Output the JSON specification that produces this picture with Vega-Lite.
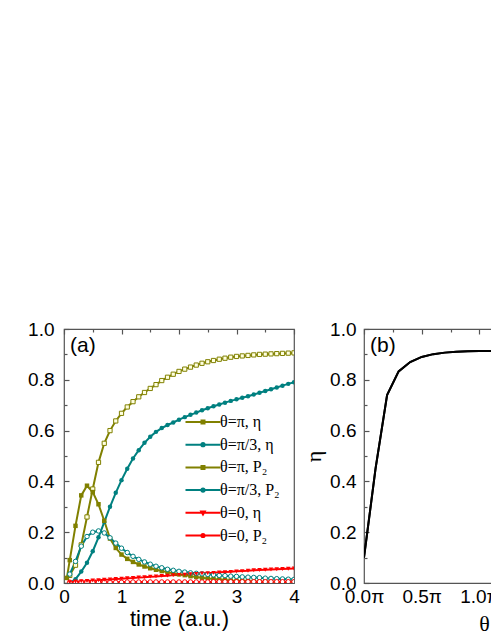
{
"$schema": "https://vega.github.io/schema/vega-lite/v6.json",
"padding": {"left": 26, "top": 319, "right": 0, "bottom": 0},
"bounds": "flush",
"spacing": 70,
"config": {
  "view": {"stroke": "#555", "strokeWidth": 1.2},
  "font": "Liberation Sans",
  "title": {"font": "Liberation Sans", "fontWeight": "normal", "fontSize": 21, "color": "#000"},
  "axis": {"grid": true, "gridColor": "#555", "gridWidth": 1.2, "gridOpacity": 1, "domain": false, "ticks": false, "labelColor": "#000", "titleColor": "#000", "labelFont": "Liberation Sans", "labelFontSize": 19, "titleFont": "Liberation Sans", "titleFontSize": 22, "titleFontWeight": "normal", "labelFlush": false, "labelOverlap": false}
},
"datasets": {
"pa": [
{"t":0.1,"s":"A","v":0.03},{"t":0.2,"s":"A","v":0.07},{"t":0.3,"s":"A","v":0.15},{"t":0.4,"s":"A","v":0.26},{"t":0.5,"s":"A","v":0.37},{"t":0.6,"s":"A","v":0.475},{"t":0.7,"s":"A","v":0.55},{"t":0.8,"s":"A","v":0.6},{"t":0.9,"s":"A","v":0.638},{"t":1.0,"s":"A","v":0.668},
{"t":1.1,"s":"A","v":0.693},{"t":1.2,"s":"A","v":0.714},{"t":1.3,"s":"A","v":0.733},{"t":1.4,"s":"A","v":0.75},{"t":1.5,"s":"A","v":0.766},{"t":1.6,"s":"A","v":0.781},{"t":1.7,"s":"A","v":0.797},{"t":1.8,"s":"A","v":0.81},{"t":1.9,"s":"A","v":0.822},{"t":2.0,"s":"A","v":0.833},
{"t":2.1,"s":"A","v":0.842},{"t":2.2,"s":"A","v":0.85},{"t":2.3,"s":"A","v":0.858},{"t":2.4,"s":"A","v":0.865},{"t":2.5,"s":"A","v":0.871},{"t":2.6,"s":"A","v":0.876},{"t":2.7,"s":"A","v":0.881},{"t":2.8,"s":"A","v":0.885},{"t":2.9,"s":"A","v":0.889},{"t":3.0,"s":"A","v":0.892},
{"t":3.1,"s":"A","v":0.894},{"t":3.2,"s":"A","v":0.896},{"t":3.3,"s":"A","v":0.898},{"t":3.4,"s":"A","v":0.9},{"t":3.5,"s":"A","v":0.901},{"t":3.6,"s":"A","v":0.902},{"t":3.7,"s":"A","v":0.903},{"t":3.8,"s":"A","v":0.904},{"t":3.9,"s":"A","v":0.905},{"t":4.0,"s":"A","v":0.906},
{"t":0.1,"s":"B","v":0.0},{"t":0.2,"s":"B","v":0.015},{"t":0.3,"s":"B","v":0.045},{"t":0.4,"s":"B","v":0.08},{"t":0.5,"s":"B","v":0.125},{"t":0.6,"s":"B","v":0.18},{"t":0.7,"s":"B","v":0.24},{"t":0.8,"s":"B","v":0.3},{"t":0.9,"s":"B","v":0.355},{"t":1.0,"s":"B","v":0.405},
{"t":1.1,"s":"B","v":0.45},{"t":1.2,"s":"B","v":0.49},{"t":1.3,"s":"B","v":0.523},{"t":1.4,"s":"B","v":0.552},{"t":1.5,"s":"B","v":0.576},{"t":1.6,"s":"B","v":0.595},{"t":1.7,"s":"B","v":0.61},{"t":1.8,"s":"B","v":0.622},{"t":1.9,"s":"B","v":0.632},{"t":2.0,"s":"B","v":0.643},
{"t":2.1,"s":"B","v":0.653},{"t":2.2,"s":"B","v":0.662},{"t":2.3,"s":"B","v":0.671},{"t":2.4,"s":"B","v":0.68},{"t":2.5,"s":"B","v":0.688},{"t":2.6,"s":"B","v":0.696},{"t":2.7,"s":"B","v":0.703},{"t":2.8,"s":"B","v":0.71},{"t":2.9,"s":"B","v":0.717},{"t":3.0,"s":"B","v":0.723},
{"t":3.1,"s":"B","v":0.729},{"t":3.2,"s":"B","v":0.735},{"t":3.3,"s":"B","v":0.742},{"t":3.4,"s":"B","v":0.749},{"t":3.5,"s":"B","v":0.756},{"t":3.6,"s":"B","v":0.763},{"t":3.7,"s":"B","v":0.77},{"t":3.8,"s":"B","v":0.777},{"t":3.9,"s":"B","v":0.784},{"t":4.0,"s":"B","v":0.79},
{"t":0.05,"s":"C","v":0.02},{"t":0.1,"s":"C","v":0.09},{"t":0.2,"s":"C","v":0.225},{"t":0.3,"s":"C","v":0.345},{"t":0.4,"s":"C","v":0.383},{"t":0.5,"s":"C","v":0.358},{"t":0.6,"s":"C","v":0.31},{"t":0.7,"s":"C","v":0.245},{"t":0.8,"s":"C","v":0.175},{"t":0.9,"s":"C","v":0.138},{"t":1.0,"s":"C","v":0.112},
{"t":1.1,"s":"C","v":0.095},{"t":1.2,"s":"C","v":0.083},{"t":1.3,"s":"C","v":0.073},{"t":1.4,"s":"C","v":0.065},{"t":1.5,"s":"C","v":0.058},{"t":1.6,"s":"C","v":0.052},{"t":1.7,"s":"C","v":0.047},{"t":1.8,"s":"C","v":0.042},{"t":1.9,"s":"C","v":0.038},{"t":2.0,"s":"C","v":0.034},
{"t":2.1,"s":"C","v":0.031},{"t":2.2,"s":"C","v":0.027},{"t":2.3,"s":"C","v":0.024},{"t":2.4,"s":"C","v":0.021},{"t":2.5,"s":"C","v":0.018},{"t":2.6,"s":"C","v":0.016},{"t":2.7,"s":"C","v":0.014},{"t":2.8,"s":"C","v":0.012},{"t":2.9,"s":"C","v":0.01},{"t":3.0,"s":"C","v":0.009},
{"t":3.1,"s":"C","v":0.008},{"t":3.2,"s":"C","v":0.007},{"t":3.3,"s":"C","v":0.006},{"t":3.4,"s":"C","v":0.005},{"t":3.5,"s":"C","v":0.005},{"t":3.6,"s":"C","v":0.004},{"t":3.7,"s":"C","v":0.004},{"t":3.8,"s":"C","v":0.003},{"t":3.9,"s":"C","v":0.003},{"t":4.0,"s":"C","v":0.003},
{"t":0.1,"s":"D","v":0.035},{"t":0.2,"s":"D","v":0.085},{"t":0.3,"s":"D","v":0.145},{"t":0.4,"s":"D","v":0.183},{"t":0.5,"s":"D","v":0.2},{"t":0.6,"s":"D","v":0.205},{"t":0.7,"s":"D","v":0.197},{"t":0.8,"s":"D","v":0.178},{"t":0.9,"s":"D","v":0.157},{"t":1.0,"s":"D","v":0.137},
{"t":1.1,"s":"D","v":0.12},{"t":1.2,"s":"D","v":0.105},{"t":1.3,"s":"D","v":0.093},{"t":1.4,"s":"D","v":0.083},{"t":1.5,"s":"D","v":0.074},{"t":1.6,"s":"D","v":0.066},{"t":1.7,"s":"D","v":0.06},{"t":1.8,"s":"D","v":0.054},{"t":1.9,"s":"D","v":0.05},{"t":2.0,"s":"D","v":0.046},
{"t":2.1,"s":"D","v":0.043},{"t":2.2,"s":"D","v":0.04},{"t":2.3,"s":"D","v":0.038},{"t":2.4,"s":"D","v":0.036},{"t":2.5,"s":"D","v":0.034},{"t":2.6,"s":"D","v":0.032},{"t":2.7,"s":"D","v":0.03},{"t":2.8,"s":"D","v":0.029},{"t":2.9,"s":"D","v":0.027},{"t":3.0,"s":"D","v":0.026},
{"t":3.1,"s":"D","v":0.024},{"t":3.2,"s":"D","v":0.023},{"t":3.3,"s":"D","v":0.022},{"t":3.4,"s":"D","v":0.021},{"t":3.5,"s":"D","v":0.019},{"t":3.6,"s":"D","v":0.018},{"t":3.7,"s":"D","v":0.017},{"t":3.8,"s":"D","v":0.016},{"t":3.9,"s":"D","v":0.015},{"t":4.0,"s":"D","v":0.014},
{"t":0.1,"s":"E","v":0.003},{"t":0.2,"s":"E","v":0.005},{"t":0.3,"s":"E","v":0.007},{"t":0.4,"s":"E","v":0.008},{"t":0.5,"s":"E","v":0.01},{"t":0.6,"s":"E","v":0.011},{"t":0.7,"s":"E","v":0.013},{"t":0.8,"s":"E","v":0.014},{"t":0.9,"s":"E","v":0.016},{"t":1.0,"s":"E","v":0.017},
{"t":1.1,"s":"E","v":0.019},{"t":1.2,"s":"E","v":0.02},{"t":1.3,"s":"E","v":0.022},{"t":1.4,"s":"E","v":0.023},{"t":1.5,"s":"E","v":0.025},{"t":1.6,"s":"E","v":0.026},{"t":1.7,"s":"E","v":0.028},{"t":1.8,"s":"E","v":0.029},{"t":1.9,"s":"E","v":0.031},{"t":2.0,"s":"E","v":0.032},
{"t":2.1,"s":"E","v":0.033},{"t":2.2,"s":"E","v":0.035},{"t":2.3,"s":"E","v":0.036},{"t":2.4,"s":"E","v":0.038},{"t":2.5,"s":"E","v":0.039},{"t":2.6,"s":"E","v":0.04},{"t":2.7,"s":"E","v":0.042},{"t":2.8,"s":"E","v":0.043},{"t":2.9,"s":"E","v":0.044},{"t":3.0,"s":"E","v":0.046},
{"t":3.1,"s":"E","v":0.047},{"t":3.2,"s":"E","v":0.048},{"t":3.3,"s":"E","v":0.05},{"t":3.4,"s":"E","v":0.051},{"t":3.5,"s":"E","v":0.052},{"t":3.6,"s":"E","v":0.053},{"t":3.7,"s":"E","v":0.054},{"t":3.8,"s":"E","v":0.055},{"t":3.9,"s":"E","v":0.056},{"t":4.0,"s":"E","v":0.057},
{"t":0.1,"s":"F","v":0.003},{"t":0.2,"s":"F","v":0.003},{"t":0.3,"s":"F","v":0.003},{"t":0.4,"s":"F","v":0.003},{"t":0.5,"s":"F","v":0.003},{"t":0.6,"s":"F","v":0.003},{"t":0.7,"s":"F","v":0.003},{"t":0.8,"s":"F","v":0.003},{"t":0.9,"s":"F","v":0.003},{"t":1.0,"s":"F","v":0.003},
{"t":1.1,"s":"F","v":0.004},{"t":1.2,"s":"F","v":0.004},{"t":1.3,"s":"F","v":0.004},{"t":1.4,"s":"F","v":0.004},{"t":1.5,"s":"F","v":0.004},{"t":1.6,"s":"F","v":0.004},{"t":1.7,"s":"F","v":0.004},{"t":1.8,"s":"F","v":0.004},{"t":1.9,"s":"F","v":0.004},{"t":2.0,"s":"F","v":0.004},
{"t":2.1,"s":"F","v":0.004},{"t":2.2,"s":"F","v":0.004},{"t":2.3,"s":"F","v":0.004},{"t":2.4,"s":"F","v":0.004},{"t":2.5,"s":"F","v":0.004},{"t":2.6,"s":"F","v":0.005},{"t":2.7,"s":"F","v":0.005},{"t":2.8,"s":"F","v":0.005},{"t":2.9,"s":"F","v":0.005},{"t":3.0,"s":"F","v":0.005},
{"t":3.1,"s":"F","v":0.005},{"t":3.2,"s":"F","v":0.005},{"t":3.3,"s":"F","v":0.005},{"t":3.4,"s":"F","v":0.005},{"t":3.5,"s":"F","v":0.005},{"t":3.6,"s":"F","v":0.005},{"t":3.7,"s":"F","v":0.005},{"t":3.8,"s":"F","v":0.005},{"t":3.9,"s":"F","v":0.005},{"t":4.0,"s":"F","v":0.005}
],
"pb": [
{"th":0.0,"eta":0.1},{"th":0.1,"eta":0.45},{"th":0.2,"eta":0.74},{"th":0.3,"eta":0.833},{"th":0.4,"eta":0.87},{"th":0.5,"eta":0.89},{"th":0.6,"eta":0.901},{"th":0.7,"eta":0.907},{"th":0.8,"eta":0.91},{"th":0.9,"eta":0.912},{"th":1.0,"eta":0.913},{"th":1.1,"eta":0.913},{"th":1.2,"eta":0.913}
]
},
"hconcat": [
{
  "width": 230, "height": 254,
  "data": {"name": "pa"},
  "title": {"text": "(a)", "anchor": "start", "frame": "group", "offset": -36, "dx": 6},
  "resolve": {"axis": {"x": "independent", "y": "independent"}},
  "layer": [
    {
      "mark": {"type": "line", "clip": true},
      "encoding": {
        "x": {"field": "t", "type": "quantitative", "scale": {"domain": [0, 4], "nice": false},
          "axis": {"orient": "bottom", "values": [0,0.5,1,1.5,2,2.5,3,3.5,4], "labelExpr": "datum.value % 1 === 0 ? format(datum.value, 'd') : ''", "gridDash": {"condition": {"test": "datum.value % 1 === 0", "value": [5, 1000]}, "value": [3, 1000]}, "labelPadding": 4, "title": "time (a.u.)", "titlePadding": 2}},
        "y": {"field": "v", "type": "quantitative", "scale": {"domain": [0, 1], "nice": false},
          "axis": {"orient": "left", "values": [0,0.1,0.2,0.3,0.4,0.5,0.6,0.7,0.8,0.9,1.0], "labelExpr": "round(datum.value*10) % 2 === 0 ? format(datum.value, '.1f') : ''", "gridDash": {"condition": {"test": "round(datum.value*10) % 2 === 0", "value": [5, 1000]}, "value": [3, 1000]}, "labelPadding": 10, "title": null}},
        "color": {"field": "s", "type": "nominal",
          "scale": {"domain": ["A","B","C","D","E","F"], "range": ["#808000","#008080","#808000","#008080","#ff0000","#ff0000"]},
          "legend": {"orient": "none", "legendX": 131, "legendY": 85, "title": null, "padding": 0, "rowPadding": 6.7, "labelFont": "Liberation Serif", "labelFontSize": 16, "labelColor": "#000", "labelOffset": 9, "symbolSize": 100,
            "labelExpr": "datum.value==='A'?'θ=π, η':datum.value==='B'?'θ=π/3, η':datum.value==='C'?'θ=π, P₂':datum.value==='D'?'θ=π/3, P₂':datum.value==='E'?'θ=0, η':'θ=0, P₂'",
            "encoding": {"symbols": {
              "shape": {"condition": [
                {"test": "datum.value==='A' || datum.value==='C'", "value": "M-3.5,0H3.5M-0.3,-0.3H0.3V0.3H-0.3Z"},
                {"test": "datum.value==='E'", "value": "M-3.5,0H3.5M-0.35,-0.25H0.35L0,0.35Z"}],
                "value": "M-3.5,0H3.5M0.32,0A0.32,0.32,0,1,1,-0.32,0A0.32,0.32,0,1,1,0.32,0Z"},
              "fill": {"condition": [
                {"test": "datum.value==='A'", "value": "#ffffe0"},
                {"test": "datum.value==='B'", "value": "#008080"},
                {"test": "datum.value==='C'", "value": "#808000"},
                {"test": "datum.value==='E'", "value": "#ff0000"}],
                "value": "#ffffff"},
              "strokeWidth": {"value": 2.2},
              "fillOpacity": {"value": 1}
            }}
          }},
        "strokeWidth": {"field": "s", "type": "nominal", "scale": {"domain": ["A","B","C","D","E","F"], "range": [2, 2, 2.6, 1.5, 2, 1.5]}, "legend": null}
      }
    },
    {
      "transform": [{"filter": "datum.s === 'A'"}],
      "mark": {"type": "point", "clip": true, "shape": "square", "size": 18, "opacity": 1, "strokeWidth": 1, "fill": "#ffffe0", "fillOpacity": 1},
      "encoding": {
        "x": {"field": "t", "type": "quantitative",
          "axis": {"orient": "top", "values": [0,0.5,1,1.5,2,2.5,3,3.5,4], "labels": false, "gridDash": {"condition": {"test": "datum.value % 1 === 0", "value": [5, 1000]}, "value": [3, 1000]}, "title": null}},
        "y": {"field": "v", "type": "quantitative",
          "axis": {"orient": "right", "values": [0,0.1,0.2,0.3,0.4,0.5,0.6,0.7,0.8,0.9,1.0], "labels": false, "gridDash": {"condition": {"test": "round(datum.value*10) % 2 === 0", "value": [5, 1000]}, "value": [3, 1000]}, "title": null}},
        "color": {"field": "s", "type": "nominal", "legend": null}
      }
    },
    {
      "transform": [{"filter": "datum.s === 'B'"}],
      "mark": {"type": "point", "clip": true, "shape": "circle", "filled": true, "size": 20, "opacity": 1},
      "encoding": {
        "x": {"field": "t", "type": "quantitative", "axis": null},
        "y": {"field": "v", "type": "quantitative", "axis": null},
        "color": {"field": "s", "type": "nominal", "legend": null}
      }
    },
    {
      "transform": [{"filter": "datum.s === 'C'"}],
      "mark": {"type": "point", "clip": true, "shape": "square", "filled": true, "size": 20, "opacity": 1},
      "encoding": {
        "x": {"field": "t", "type": "quantitative", "axis": null},
        "y": {"field": "v", "type": "quantitative", "axis": null},
        "color": {"field": "s", "type": "nominal", "legend": null}
      }
    },
    {
      "transform": [{"filter": "datum.s === 'D' || datum.s === 'F'"}],
      "mark": {"type": "point", "clip": true, "shape": "circle", "size": 20, "opacity": 1, "strokeWidth": 1, "fill": "#ffffff", "fillOpacity": 1},
      "encoding": {
        "x": {"field": "t", "type": "quantitative", "axis": null},
        "y": {"field": "v", "type": "quantitative", "axis": null},
        "color": {"field": "s", "type": "nominal", "legend": null}
      }
    },
    {
      "transform": [{"filter": "datum.s === 'E'"}],
      "mark": {"type": "point", "clip": true, "shape": "triangle-down", "filled": true, "size": 20, "opacity": 1},
      "encoding": {
        "x": {"field": "t", "type": "quantitative", "axis": null},
        "y": {"field": "v", "type": "quantitative", "axis": null},
        "color": {"field": "s", "type": "nominal", "legend": null}
      }
    }
  ]
},
{
  "width": 128, "height": 254,
  "data": {"name": "pb"},
  "title": {"text": "(b)", "anchor": "start", "frame": "group", "offset": -36, "dx": 6},
  "resolve": {"axis": {"x": "independent", "y": "independent"}},
  "layer": [
    {
      "mark": {"type": "line", "clip": true, "color": "#000", "strokeWidth": 2},
      "encoding": {
        "x": {"field": "th", "type": "quantitative", "scale": {"domain": [0, 1.109], "nice": false},
          "axis": {"orient": "bottom", "values": [0,0.25,0.5,0.75,1.0], "labelExpr": "round(datum.value*4) % 2 === 0 ? format(datum.value, '.1f') + 'π' : ''", "gridDash": {"condition": {"test": "round(datum.value*4) % 2 === 0", "value": [5, 1000]}, "value": [3, 1000]}, "labelPadding": 4, "title": "θ", "titleFont": "Liberation Serif", "titleX": 120, "titlePadding": 7}},
        "y": {"field": "eta", "type": "quantitative", "scale": {"domain": [0, 1], "nice": false},
          "axis": {"orient": "left", "values": [0,0.1,0.2,0.3,0.4,0.5,0.6,0.7,0.8,0.9,1.0], "labelExpr": "round(datum.value*10) % 2 === 0 ? format(datum.value, '.1f') : ''", "gridDash": {"condition": {"test": "round(datum.value*10) % 2 === 0", "value": [5, 1000]}, "value": [3, 1000]}, "labelPadding": 8, "title": "η", "titleFont": "Liberation Serif", "titlePadding": 4}}
      }
    },
    {
      "mark": {"type": "line", "clip": true, "color": "#000", "strokeWidth": 2},
      "encoding": {
        "x": {"field": "th", "type": "quantitative",
          "axis": {"orient": "top", "values": [0,0.25,0.5,0.75,1.0], "labels": false, "gridDash": {"condition": {"test": "round(datum.value*4) % 2 === 0", "value": [5, 1000]}, "value": [3, 1000]}, "title": null}},
        "y": {"field": "eta", "type": "quantitative", "axis": null}
      }
    }
  ]
}
]
}
